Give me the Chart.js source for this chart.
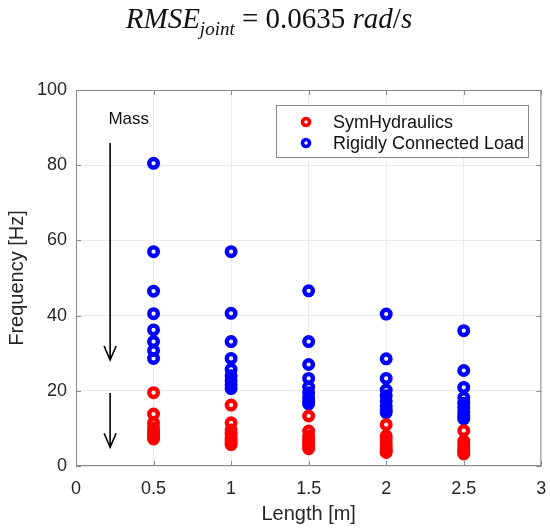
<!DOCTYPE html>
<html>
<head>
<meta charset="utf-8">
<script src="https://cdn.jsdelivr.net/npm/chart.js@4.4.1/dist/chart.umd.min.js"></script>
<style>
  body { margin: 0; background: #fff; }
  #wrap { position: relative; width: 550px; height: 530px; }
  #eq {
    position: absolute; top: 2px; left: -6px; width: 550px; text-align: center;
    font-family: "Liberation Serif", "DejaVu Serif", serif; font-size: 29px; color: #111;
  }
  #eq sub { font-size: 19px; }
</style>
</head>
<body>
<div id="wrap">
  <div id="eq"><i>RMSE</i><sub><i>joint</i></sub> = 0.0635 <i>rad</i>/<i>s</i></div>
  <canvas id="freqChart" width="550" height="530"></canvas>
</div>
<script>
// tested lengths [m]
const lengths = [0.5, 1, 1.5, 2, 2.5];

// eigenfrequencies [Hz] per length
const symHydraulics = [
  [19.5, 13.8, 11.5, 10.2, 9.2, 8.4, 7.7, 7.2],
  [16.2, 11.5, 9.6, 8.5, 7.5, 6.8, 6.2, 5.7],
  [13.3, 9.3, 8.0, 7.0, 6.1, 5.3, 4.6],
  [11.0, 8.0, 6.9, 5.9, 5.0, 4.2, 3.6],
  [9.4, 6.6, 5.6, 4.8, 4.1, 3.6, 3.2]
];
const rigidLoad = [
  [80.5, 57.0, 46.5, 40.5, 36.2, 33.1, 30.7, 28.6],
  [57.0, 40.6, 33.1, 28.6, 25.7, 24.0, 22.7, 21.6, 20.6],
  [46.6, 33.1, 27.0, 23.3, 21.0, 19.5, 18.2, 17.2, 16.5],
  [40.4, 28.5, 23.3, 20.2, 18.7, 17.3, 16.0, 15.0, 14.2],
  [36.0, 25.4, 20.9, 18.2, 16.7, 15.4, 14.3, 13.3, 12.5]
];

const xTicks = [0, 0.5, 1, 1.5, 2, 2.5, 3];
const yTicks = [0, 20, 40, 60, 80, 100];

function toPoints(groups) {
  let pts = [];
  groups.forEach((g, i) => g.forEach(v => pts.push({ x: lengths[i], y: v })));
  return pts;
}

const txt = '#262626';
const font = 'Liberation Sans, Arial, sans-serif';

// box, inward ticks, "Mass" arrows and the inset legend
const decor = {
  id: 'decor',
  afterDatasetsDraw(chart) {
    const c = chart.ctx, a = chart.chartArea;
    const xs = chart.scales.x, ys = chart.scales.y;
    c.save();
    c.strokeStyle = '#8a8a8a';
    c.lineWidth = 1;
    c.strokeRect(a.left + 0.5, a.top + 0.5, a.right - a.left - 1, a.bottom - a.top - 1);
    c.beginPath();
    xTicks.forEach(t => {
      const px = Math.round(xs.getPixelForValue(t)) + 0.5;
      c.moveTo(px, a.bottom); c.lineTo(px, a.bottom - 5);
      c.moveTo(px, a.top); c.lineTo(px, a.top + 5);
    });
    yTicks.forEach(t => {
      const py = Math.round(ys.getPixelForValue(t)) + 0.5;
      c.moveTo(a.left, py); c.lineTo(a.left + 5, py);
      c.moveTo(a.right, py); c.lineTo(a.right - 5, py);
    });
    c.stroke();

    // arrows
    c.strokeStyle = '#000';
    c.lineWidth = 1.6;
    function arrow(x, y0, y1) {
      const px = xs.getPixelForValue(x);
      const p0 = ys.getPixelForValue(y0), p1 = ys.getPixelForValue(y1);
      c.beginPath();
      c.moveTo(px, p0); c.lineTo(px, p1);
      c.moveTo(px - 6, p1 - 14); c.lineTo(px, p1); c.lineTo(px + 6, p1 - 14);
      c.stroke();
    }
    arrow(0.22, 85.9, 28.2);
    arrow(0.22, 19.4, 5);
    c.fillStyle = '#111';
    c.font = '17px ' + font;
    c.textAlign = 'center';
    c.textBaseline = 'middle';
    c.fillText('Mass', xs.getPixelForValue(0.34), ys.getPixelForValue(92.2));

    // legend
    const lx = 276, ly = 105, lw = 252, lh = 52;
    c.fillStyle = '#fff';
    c.fillRect(lx, ly, lw, lh);
    c.strokeStyle = '#8a8a8a';
    c.lineWidth = 1;
    c.strokeRect(lx + 0.5, ly + 0.5, lw, lh);
    c.textAlign = 'left';
    c.font = '18px ' + font;
    chart.data.datasets.forEach((ds, i) => {
      const cy = ly + 17 + i * 21;
      c.beginPath();
      c.arc(lx + 30, cy, 3.5, 0, Math.PI * 2);
      c.strokeStyle = ds.borderColor;
      c.lineWidth = 3.6;
      c.stroke();
      c.fillStyle = '#111';
      c.fillText(ds.label, lx + 57, cy + 1);
    });
    c.restore();
  }
};

new Chart(document.getElementById('freqChart').getContext('2d'), {
  type: 'scatter',
  data: {
    datasets: [{
      label: 'SymHydraulics',
      data: toPoints(symHydraulics),
      borderColor: '#ff0000',
      backgroundColor: 'rgba(0,0,0,0)',
      pointRadius: 4.3,
      borderWidth: 4.4
    }, {
      label: 'Rigidly Connected Load',
      data: toPoints(rigidLoad),
      borderColor: '#0000ff',
      backgroundColor: 'rgba(0,0,0,0)',
      pointRadius: 4.3,
      borderWidth: 4.4
    }]
  },
  options: {
    responsive: false,
    animation: false,
    layout: { padding: { left: 0, top: 90, right: 3, bottom: 0 } },
    plugins: { legend: { display: false }, tooltip: { enabled: false } },
    scales: {
      x: {
        type: 'linear', min: 0, max: 3,
        afterBuildTicks: s => { s.ticks = xTicks.map(v => ({ value: v })); },
        afterFit: s => { s.height = 64; s.paddingLeft = 0; s.paddingRight = 0; },
        ticks: { color: txt, font: { family: font, size: 18 }, padding: 12, callback: v => String(v) },
        grid: { color: '#ebebeb', drawTicks: false },
        border: { display: false },
        title: { display: true, text: 'Length [m]', color: txt, font: { family: font, size: 20 }, padding: { top: 0, bottom: 4 } }
      },
      y: {
        min: 0, max: 100,
        afterBuildTicks: s => { s.ticks = yTicks.map(v => ({ value: v })); },
        afterFit: s => { s.width = 76; s.paddingTop = 0; s.paddingBottom = 0; },
        ticks: { color: txt, font: { family: font, size: 18 }, padding: 9, callback: v => String(v) },
        grid: { color: '#ebebeb', drawTicks: false },
        border: { display: false },
        title: { display: true, text: 'Frequency [Hz]', color: txt, font: { family: font, size: 20 }, padding: { top: 5, bottom: 0 } }
      }
    }
  },
  plugins: [decor]
});
</script>
</body>
</html>
